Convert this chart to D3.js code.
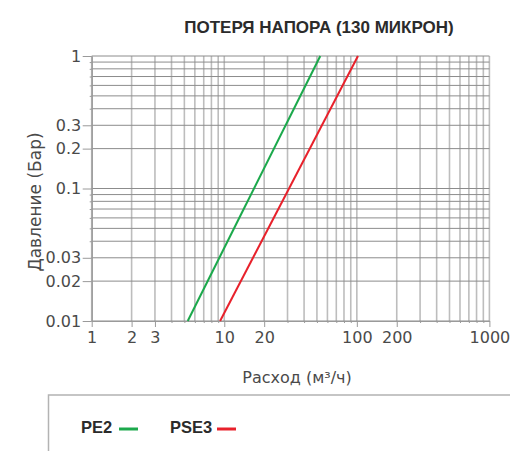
<!DOCTYPE html>
<html>
<head>
<meta charset="utf-8">
<script src="https://cdn.jsdelivr.net/npm/d3@7"></script>
<style>
  html, body { margin: 0; padding: 0; background: #fff; }
  svg { display: block; }
</style>
</head>
<body>
<svg id="chart" width="510" height="451"></svg>
<script>
// Head-loss curves, log-log: flow (m³/h) vs pressure drop (bar)
const seriesNames = ["PE2", "PSE3"];
const seriesColors = ["#1ca94c", "#e8212b"];
const pe2Flow = [5.3, 53];
const pe2Pressure = [0.01, 1];
const pse3Flow = [9.3, 102];
const pse3Pressure = [0.01, 1];

const xTickLabels = [1, 2, 3, 10, 20, 100, 200, 1000];
const yTickLabels = [1, 0.3, 0.2, 0.1, 0.03, 0.02, 0.01];

const titleText = "ПОТЕРЯ НАПОРА (130 МИКРОН)";
const xTitle = "Расход (м³/ч)";
const yTitle = "Давление (Бар)";

const svg = d3.select("#chart");
const plotLeft = 91.7, plotRight = 489.4, plotTop = 56, plotBottom = 321;

const x = d3.scaleLog().domain([1, 1000]).range([plotLeft, plotRight]);
const y = d3.scaleLog().domain([0.01, 1]).range([plotBottom, plotTop]);

const fmt = d => String(d);
const font = "'DejaVu Sans', sans-serif";
const boldFont = "'Liberation Sans', Arial, sans-serif";

// grid
const grid = svg.append("g");
grid.selectAll("line.v").data(x.ticks()).join("line")
  .attr("class", "v")
  .attr("x1", d => x(d)).attr("x2", d => x(d))
  .attr("y1", plotTop).attr("y2", plotBottom)
  .attr("stroke", "#bdbdbd").attr("stroke-width", 1.6);
grid.selectAll("line.h").data(y.ticks()).join("line")
  .attr("class", "h")
  .attr("x1", plotLeft).attr("x2", plotRight)
  .attr("y1", d => y(d)).attr("y2", d => y(d))
  .attr("stroke", "#8c8c8c").attr("stroke-width", 1);

// axes
function styleAxis(g) {
  g.select(".domain").attr("stroke", "#9a9a9a").attr("stroke-width", 1);
  g.selectAll(".tick line").attr("stroke", "#9a9a9a").attr("stroke-width", 1);
  g.selectAll(".tick text").attr("fill", "#4a4a4a")
    .style("font-family", font).style("font-size", "16px");
}

const xMinor = x.ticks().filter(d => !xTickLabels.includes(d));
svg.append("g").attr("transform", `translate(0,${plotBottom})`)
  .call(d3.axisBottom(x).tickValues(xMinor).tickSize(2).tickSizeOuter(0).tickFormat(""))
  .call(styleAxis);
svg.append("g").attr("transform", `translate(0,${plotBottom})`)
  .call(d3.axisBottom(x).tickValues(xTickLabels).tickSize(6).tickSizeOuter(0).tickPadding(5).tickFormat(fmt))
  .call(styleAxis);

const yMinor = y.ticks().filter(d => !yTickLabels.includes(d));
svg.append("g").attr("transform", `translate(${plotLeft},0)`)
  .call(d3.axisLeft(y).tickValues(yMinor).tickSize(2).tickSizeOuter(0).tickFormat(""))
  .call(styleAxis);
svg.append("g").attr("transform", `translate(${plotLeft},0)`)
  .call(d3.axisLeft(y).tickValues(yTickLabels).tickSize(9).tickSizeOuter(0).tickPadding(1.5).tickFormat(fmt))
  .call(styleAxis);

// series lines
const series = [
  { flow: pe2Flow, pressure: pe2Pressure },
  { flow: pse3Flow, pressure: pse3Pressure }
];
const line = d3.line().x(d => x(d[0])).y(d => y(d[1]));
series.forEach((s, i) => {
  svg.append("path")
    .datum(s.flow.map((f, k) => [f, s.pressure[k]]))
    .attr("d", line)
    .attr("fill", "none")
    .attr("stroke", seriesColors[i])
    .attr("stroke-width", 2);
});

// titles
svg.append("text").attr("x", 319).attr("y", 33)
  .attr("text-anchor", "middle")
  .style("font-family", boldFont)
  .style("font-weight", "bold").style("font-size", "17px")
  .attr("fill", "#2b2b2b").text(titleText);

svg.append("text").attr("x", 297).attr("y", 383)
  .attr("text-anchor", "middle")
  .style("font-family", font).style("font-size", "16px")
  .attr("fill", "#4a4a4a").text(xTitle);

svg.append("text")
  .attr("transform", "translate(41,202) rotate(-90)")
  .attr("text-anchor", "middle")
  .style("font-family", font).style("font-size", "17px")
  .attr("fill", "#4a4a4a").text(yTitle);

// legend
svg.append("rect").attr("x", 48.5).attr("y", 395).attr("width", 500).attr("height", 100)
  .attr("fill", "none").attr("stroke", "#b3b3b3").attr("stroke-width", 1.5);

const legendX = [81, 170];
const legendLineX = [119, 217];
seriesNames.forEach((name, i) => {
  svg.append("text").attr("x", legendX[i]).attr("y", 433)
    .style("font-family", boldFont)
    .style("font-weight", "bold").style("font-size", "16.5px")
    .attr("fill", "#2b2b2b").text(name);
  svg.append("line")
    .attr("x1", legendLineX[i]).attr("x2", legendLineX[i] + 19)
    .attr("y1", 429).attr("y2", 429)
    .attr("stroke", seriesColors[i]).attr("stroke-width", 3);
});
</script>
</body>
</html>
